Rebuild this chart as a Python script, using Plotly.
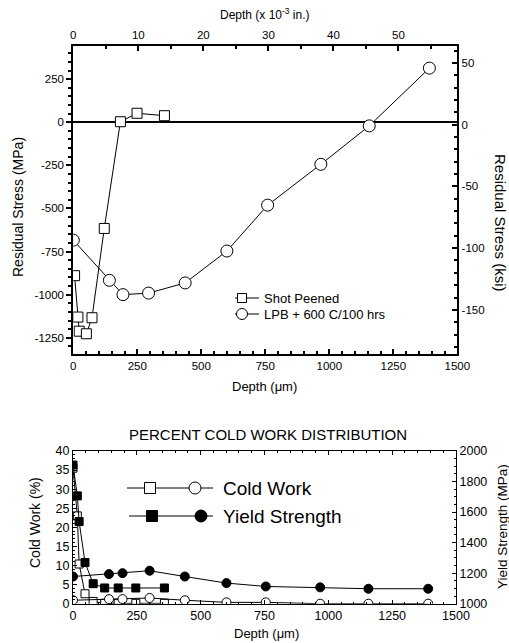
import plotly.graph_objects as go

# ---------------- data ----------------
# Top chart: residual stress vs depth
sp_depth = [5, 18, 23, 51, 73, 121, 184, 249, 356]
sp_stress = [-890, -1130, -1212, -1227, -1134, -616, 3, 52, 38]
lpb_depth = [0, 141, 194, 294, 437, 600, 759, 967, 1156, 1391]
lpb_stress = [-684, -917, -1000, -991, -932, -747, -481, -244, -21, 314]

# Bottom chart: cold work / yield strength vs depth
cw_sp_depth = [0, 17, 24, 47, 79, 124, 177, 246, 358]
cw_sp = [35.5, 23, 10.4, 2.6, 0.6, 0.1, 0.1, 0.1, 0.1]
ys_sp = [1908, 1706, 1538, 1270, 1131, 1103, 1103, 1103, 1103]
cw_lpb_depth = [0, 141, 194, 300, 438, 601, 755, 968, 1157, 1391]
cw_lpb = [0.9, 1.2, 1.2, 1.5, 0.9, 0.35, 0.35, 0.0, 0.0, 0.0]
ys_lpb = [1178, 1194, 1200, 1216, 1178, 1135, 1113, 1107, 1098, 1098]

# tick values
mpa_ticks = [-1250, -1000, -750, -500, -250, 0, 250]
ksi_ticks = [-150, -100, -50, 0, 50]

UM_PER_MIL = 25.4
W, H = 509, 643
FONT = "Liberation Sans, Arial, sans-serif"


def px(x):
    return x / W


def py(y):
    return 1 - y / H


fig = go.Figure()

line = dict(color="black", width=1)
fig.add_trace(go.Scatter(x=sp_depth, y=sp_stress, mode="lines+markers", name="Shot Peened",
                         line=line, marker=dict(symbol="square", size=10, color="white",
                                                line=dict(color="black", width=1)),
                         xaxis="x", yaxis="y"))
fig.add_trace(go.Scatter(x=lpb_depth, y=lpb_stress, mode="lines+markers", name="LPB + 600 C/100 hrs",
                         line=line, marker=dict(symbol="circle", size=12, color="white",
                                                line=dict(color="black", width=1)),
                         xaxis="x", yaxis="y"))
# invisible trace for the top (mil) axis
fig.add_trace(go.Scatter(x=[0, 1500 / UM_PER_MIL], y=[0, 0], mode="markers", marker=dict(opacity=0),
                         showlegend=False, hoverinfo="skip", xaxis="x2", yaxis="y"))
# invisible trace for the ksi axis
fig.add_trace(go.Scatter(x=[0], y=[0], mode="markers", marker=dict(opacity=0),
                         showlegend=False, hoverinfo="skip", xaxis="x", yaxis="y2"))

# bottom chart
fig.add_trace(go.Scatter(x=cw_sp_depth, y=cw_sp, mode="lines+markers", name="Cold Work (SP)",
                         line=line, marker=dict(symbol="square", size=8, color="white",
                                                line=dict(color="black", width=1)),
                         xaxis="x3", yaxis="y3"))
fig.add_trace(go.Scatter(x=cw_lpb_depth, y=cw_lpb, mode="lines+markers", name="Cold Work (LPB)",
                         line=line, marker=dict(symbol="circle", size=9, color="white",
                                                line=dict(color="black", width=1)),
                         xaxis="x3", yaxis="y3"))
fig.add_trace(go.Scatter(x=cw_sp_depth, y=ys_sp, mode="lines+markers", name="Yield Strength (SP)",
                         line=line, marker=dict(symbol="square", size=8, color="black",
                                                line=dict(color="black", width=1)),
                         xaxis="x3", yaxis="y4"))
fig.add_trace(go.Scatter(x=cw_lpb_depth, y=ys_lpb, mode="lines+markers", name="Yield Strength (LPB)",
                         line=line, marker=dict(symbol="circle", size=9, color="black",
                                                line=dict(color="black", width=1)),
                         xaxis="x3", yaxis="y4"))

tf = dict(family=FONT, size=11.5, color="black")
tf2 = dict(family=FONT, size=12.5, color="black")

xd_top = [px(73.3), px(457.3)]
yd_top = [py(354.3), py(45.7)]
xd_bot = [px(73), px(456)]
yd_bot = [py(603.7), py(451)]

fig.update_layout(
    width=W, height=H, margin=dict(l=0, r=0, t=0, b=0, autoexpand=False),
    paper_bgcolor="white", plot_bgcolor="white",
    font=dict(family=FONT, color="black"),
    showlegend=False,
    xaxis=dict(domain=xd_top, range=[0, 1500], anchor="y", tickvals=[0, 250, 500, 750, 1000, 1250, 1500],
               ticks="inside", ticklen=5, tickwidth=2, tickcolor="black", showline=True,
               linewidth=2, linecolor="black", showgrid=False, zeroline=False, tickfont=tf,
               automargin=False,
               minor=dict(dtick=50, ticks="inside", ticklen=3, tickwidth=1.5, tickcolor="black")),
    xaxis2=dict(domain=xd_top, range=[0, 1500 / UM_PER_MIL], anchor="y", overlaying="x", side="top",
                tickvals=[0, 10, 20, 30, 40, 50], ticks="inside", ticklen=5, tickwidth=2,
                tickcolor="black", showline=True, linewidth=2, linecolor="black", showgrid=False,
                zeroline=False, tickfont=tf, automargin=False,
                minor=dict(dtick=5, ticks="inside", ticklen=3, tickwidth=1.5, tickcolor="black")),
    yaxis=dict(domain=yd_top, range=[-1346, 444], anchor="x",
               tickvals=mpa_ticks, ticktext=[str(v) for v in mpa_ticks], ticks="outside", ticklen=5,
               tickwidth=2, tickcolor="black", showline=True, linewidth=2, linecolor="black",
               showgrid=False, zeroline=True, zerolinecolor="black", zerolinewidth=2, tickfont=tf,
               automargin=False,
               minor=dict(dtick=50, ticks="outside", ticklen=3, tickwidth=1.5, tickcolor="black")),
    yaxis2=dict(domain=yd_top, range=[-186, 64], anchor="x", overlaying="y", side="right",
                tickvals=ksi_ticks, ticktext=[str(v) for v in ksi_ticks], ticks="inside", ticklen=5,
                tickwidth=2, tickcolor="black", showline=True, linewidth=2, linecolor="black",
                showgrid=False, zeroline=False, tickfont=tf, automargin=False,
                minor=dict(dtick=10, ticks="inside", ticklen=3, tickwidth=1.5, tickcolor="black")),
    xaxis3=dict(domain=xd_bot, range=[0, 1500], anchor="y3", dtick=250, ticks="inside", ticklen=4,
                tickcolor="black", showline=True, linewidth=1, linecolor="black", mirror="ticks",
                showgrid=False, zeroline=False, tickfont=tf2, automargin=False,
                minor=dict(dtick=50, ticks="inside", ticklen=2, tickcolor="black")),
    yaxis3=dict(domain=yd_bot, range=[0, 40], anchor="x3", dtick=5, ticks="inside", ticklen=4,
                tickcolor="black", showline=True, linewidth=1, linecolor="black", showgrid=False,
                zeroline=False, tickfont=tf2, automargin=False,
                minor=dict(dtick=1, ticks="inside", ticklen=2, tickcolor="black")),
    yaxis4=dict(domain=yd_bot, range=[1000, 2000], anchor="x3", overlaying="y3", side="right",
                dtick=200, ticks="inside", ticklen=4, tickcolor="black", showline=True, linewidth=1,
                linecolor="black", showgrid=False, zeroline=False, tickfont=tf2, automargin=False,
                minor=dict(dtick=50, ticks="inside", ticklen=2, tickcolor="black")),
)

ann = []


def add_text(text, x, y, size, angle=0, anchor="center"):
    ann.append(dict(text=text, x=px(x), y=py(y), xref="paper", yref="paper", showarrow=False,
                    xanchor=anchor, yanchor="middle", textangle=angle,
                    font=dict(family=FONT, size=size, color="black")))


add_text("Depth (x 10<sup>-3</sup> in.)", 265, 14, 12)
add_text("Depth (μm)", 264, 386, 13)
add_text("Residual Stress (MPa)", 18, 207, 14, -90)
add_text("Residual Stress (ksi)", 500, 223, 15, 90)
add_text("PERCENT COLD WORK DISTRIBUTION", 268, 434, 15)
add_text("Depth (μm)", 266, 633, 13)
add_text("Cold Work (%)", 35, 523, 14, -90)
add_text("Yield Strength (MPa)", 502, 527, 13.5, -90)

# top legend
add_text("Shot Peened", 262, 298, 13, anchor="left")
add_text("LPB + 600 C/100 hrs", 262, 314, 13, anchor="left")
# bottom legend
add_text("Cold Work", 221, 488, 19, anchor="left")
add_text("Yield Strength", 221, 516, 19, anchor="left")
fig.update_layout(annotations=ann)

shapes = []


def hline(x0, x1, y):
    shapes.append(dict(type="line", xref="paper", yref="paper", x0=px(x0), x1=px(x1),
                       y0=py(y), y1=py(y), line=dict(color="black", width=1)))


def sym(kind, cx, cy, r, fill):
    shapes.append(dict(type=kind, xref="paper", yref="paper", x0=px(cx - r), x1=px(cx + r),
                       y0=py(cy + r), y1=py(cy - r), fillcolor=fill,
                       line=dict(color="black", width=1)))


# top legend glyphs
hline(235, 259, 298)
sym("rect", 242, 298, 4.5, "white")
hline(235, 259, 314)
sym("circle", 242, 314, 5.5, "white")

# bottom legend glyphs
for (yy, x0, sqx, cx, fill) in [(488, 127, 150, 195, "white"), (516, 129, 152, 201, "black")]:
    hline(x0, 213, yy)
    sym("rect", sqx, yy, 5.5, fill)
    sym("circle", cx, yy, 6, fill)
fig.update_layout(shapes=shapes)

fig.write_html("out.html", config={"displayModeBar": False},
               post_script="document.body.style.margin='0px';")
